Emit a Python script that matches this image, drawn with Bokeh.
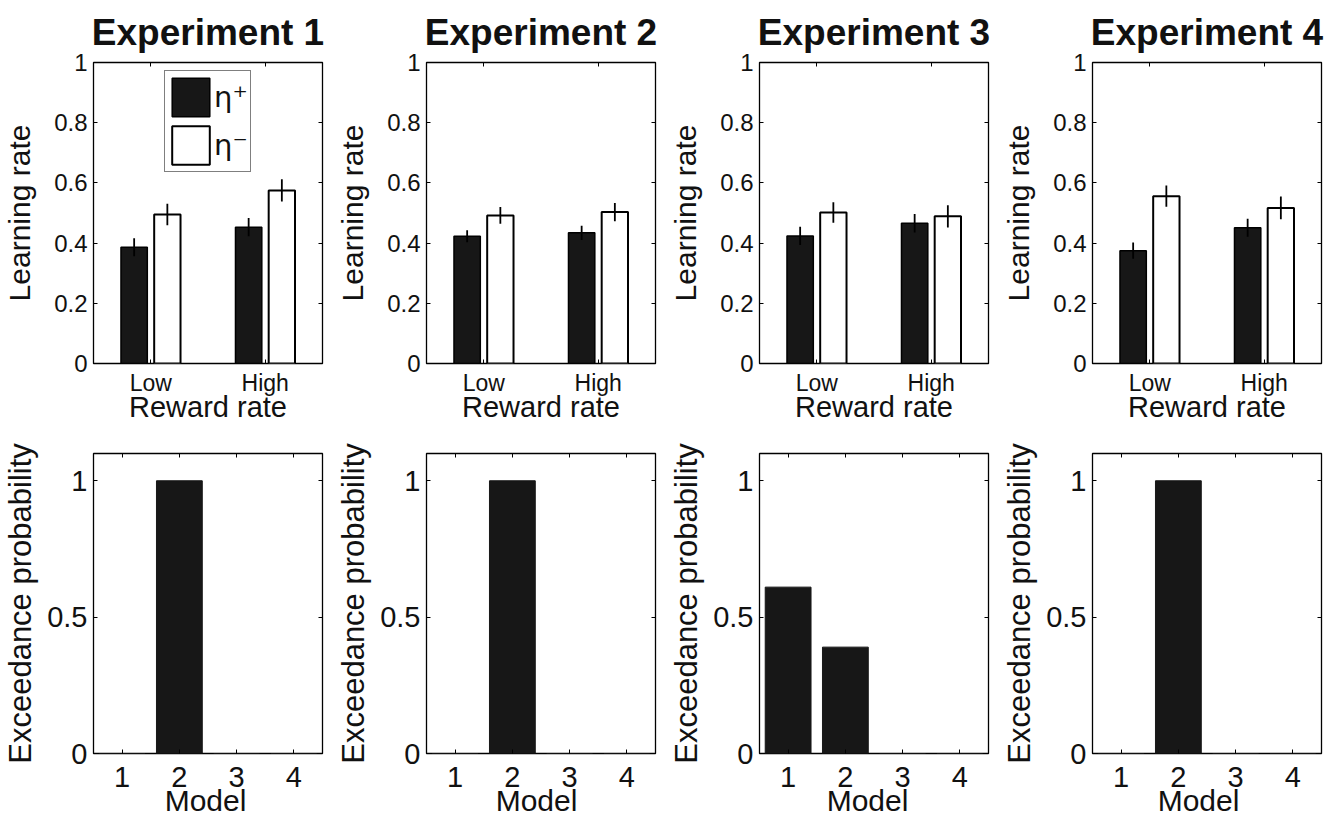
from bokeh.plotting import figure
from bokeh.models import (FixedTicker, LinearAxis, Range1d, Legend, LegendItem,
                          CustomJSTickFormatter, Div)
from bokeh.layouts import column, row
from bokeh.embed import file_html
from bokeh.resources import INLINE

# ---------------- data ----------------
experiments = ["Experiment 1", "Experiment 2", "Experiment 3", "Experiment 4"]
reward_levels = ["Low", "High"]
eta_plus_mean = [[0.386, 0.453], [0.423, 0.434], [0.424, 0.466], [0.375, 0.451]]
eta_plus_sem = [[0.030, 0.030], [0.020, 0.024], [0.030, 0.031], [0.027, 0.030]]
eta_minus_mean = [[0.495, 0.575], [0.492, 0.503], [0.502, 0.489], [0.556, 0.517]]
eta_minus_sem = [[0.036, 0.037], [0.028, 0.030], [0.034, 0.037], [0.035, 0.038]]
models = [1, 2, 3, 4]
exceedance = [[0.0, 1.0, 0.0, 0.0],
              [0.0, 1.0, 0.0, 0.0],
              [0.61, 0.39, 0.0, 0.0],
              [0.0, 1.0, 0.0, 0.0]]
lr_ticks = [0, 0.2, 0.4, 0.6, 0.8, 1]
ep_ticks = [0, 0.5, 1]
legend_labels = ["\u03b7\u207a", "\u03b7\u207b"]
model_axis_title = "Model"

# ---------------- style ----------------
FONT = "Liberation Sans"
DARK = "#171717"
TXT = "#111111"
FW = 229
LEFT_B = 91
RIGHT_B = 11


def num_fmt():
    return CustomJSTickFormatter(code="return String(Math.round(tick*10)/10);")


def style_axis(ax, label_size, title_size, label_standoff, title_standoff):
    ax.axis_line_color = None
    ax.major_tick_in = 4
    ax.major_tick_out = 0
    ax.minor_tick_line_color = None
    ax.major_tick_line_color = "black"
    ax.major_tick_line_width = 1
    ax.major_label_text_font = FONT
    ax.axis_label_text_font = FONT
    ax.axis_label_text_font_style = "normal"
    ax.major_label_text_color = TXT
    ax.axis_label_text_color = TXT
    ax.major_label_text_font_size = label_size
    ax.axis_label_text_font_size = title_size
    ax.major_label_standoff = label_standoff
    ax.axis_label_standoff = title_standoff


def add_mirror(p, xticks, yticks):
    top = LinearAxis(ticker=FixedTicker(ticks=xticks),
                     formatter=CustomJSTickFormatter(code="return '';"))
    right = LinearAxis(ticker=FixedTicker(ticks=yticks),
                       formatter=CustomJSTickFormatter(code="return '';"))
    for ax in (top, right):
        ax.major_label_text_font_size = "1px"
        ax.major_label_standoff = 0
        ax.axis_line_color = None
        ax.major_tick_in = 4
        ax.major_tick_out = 0
        ax.minor_tick_line_color = None
        ax.major_tick_line_color = "black"
    p.add_layout(top, "above")
    p.add_layout(right, "right")


def base_style(p):
    p.xgrid.visible = False
    p.ygrid.visible = False
    p.outline_line_color = "black"
    p.outline_line_width = 1.3
    p.background_fill_color = "white"
    p.border_fill_color = "white"


top_figs = []
bot_figs = []
model_divs = []
for e, name in enumerate(experiments):
    # ---------- learning-rate panel ----------
    p = figure(frame_width=FW, frame_height=301, output_backend="svg", toolbar_location=None,
               x_range=Range1d(0.5, 2.5), y_range=Range1d(0, 1),
               min_border_left=LEFT_B, min_border_right=RIGHT_B, min_border_top=54,
               min_border_bottom=72)
    base_style(p)
    p.title.text = name
    p.title.align = "center"
    p.title.text_font = FONT
    p.title.text_font_size = "37px"
    p.title.text_font_style = "bold"
    p.title.text_color = TXT
    p.title.standoff = 19

    pos = [i + 1 for i in range(len(reward_levels))]
    xb = [x - 0.145 for x in pos]
    xw = [x + 0.145 for x in pos]
    pm = eta_plus_mean[e]
    ps = eta_plus_sem[e]
    mm = eta_minus_mean[e]
    ms = eta_minus_sem[e]

    rb = p.vbar(x=xb, top=pm, width=0.23, bottom=0, fill_color=DARK,
                line_color="black", line_width=1.5)
    rw = p.vbar(x=xw, top=mm, width=0.23, bottom=0, fill_color="white",
                line_color="black", line_width=2)
    p.segment(x0=xb, x1=xb, y0=[m - s for m, s in zip(pm, ps)],
              y1=[m + s for m, s in zip(pm, ps)], line_color="black", line_width=1.8)
    p.segment(x0=xw, x1=xw, y0=[m - s for m, s in zip(mm, ms)],
              y1=[m + s for m, s in zip(mm, ms)], line_color="black", line_width=1.8)

    bx = p.below[0]
    ly = p.left[0]
    bx.ticker = FixedTicker(ticks=pos)
    bx.major_label_overrides = {x: lab for x, lab in zip(pos, reward_levels)}
    ly.ticker = FixedTicker(ticks=lr_ticks)
    ly.formatter = num_fmt()
    bx.axis_label = "Reward rate"
    ly.axis_label = "Learning rate"
    style_axis(bx, "23px", "29px", 6, -8)
    style_axis(ly, "24px", "30px", 6, 15)
    add_mirror(p, pos, lr_ticks)

    if e == 0:
        legend = Legend(items=[LegendItem(label=legend_labels[0], renderers=[rb]),
                               LegendItem(label=legend_labels[1], renderers=[rw])],
                        location=(71, 191), glyph_width=47, glyph_height=48,
                        label_height=48, label_width=30,
                        spacing=0, padding=2, margin=0, label_standoff=0,
                        label_text_font="DejaVu Sans", label_text_font_size="29px",
                        label_text_color=TXT,
                        border_line_color="black", border_line_width=1.3,
                        background_fill_color="white", background_fill_alpha=1)
        p.add_layout(legend)
    top_figs.append(p)

    # ---------- exceedance panel ----------
    q = figure(frame_width=FW, frame_height=300, output_backend="svg", toolbar_location=None,
               x_range=Range1d(0.5, 4.5), y_range=Range1d(0, 1.1),
               min_border_left=LEFT_B, min_border_right=RIGHT_B, min_border_top=18,
               min_border_bottom=56)
    base_style(q)
    q.vbar(x=models, top=exceedance[e], width=0.8, bottom=0, fill_color=DARK,
           line_color=DARK, line_width=1)
    qbx = q.below[0]
    qly = q.left[0]
    qbx.ticker = FixedTicker(ticks=models)
    qly.ticker = FixedTicker(ticks=ep_ticks)
    qly.formatter = num_fmt()
    qly.axis_label = "Exceedance probability"
    style_axis(qbx, "29px", "30px", 13, 0)
    style_axis(qly, "29px", "31px", 6, 6)
    add_mirror(q, models, ep_ticks)
    bot_figs.append(q)

    # x-axis title of the lower panel, set just under its tick labels
    model_divs.append(Div(text=model_axis_title, width=FW, height=24,
                          margin=(-23, RIGHT_B, 0, LEFT_B),
                          styles={"font-family": FONT, "font-size": "30px",
                                  "line-height": "30px", "text-align": "center",
                                  "color": TXT, "overflow": "visible"}))

layout = column(row(*top_figs, spacing=0), row(*bot_figs, spacing=0),
                row(*model_divs, spacing=0), spacing=0)
open("out.html", "w").write(file_html(layout, INLINE))
